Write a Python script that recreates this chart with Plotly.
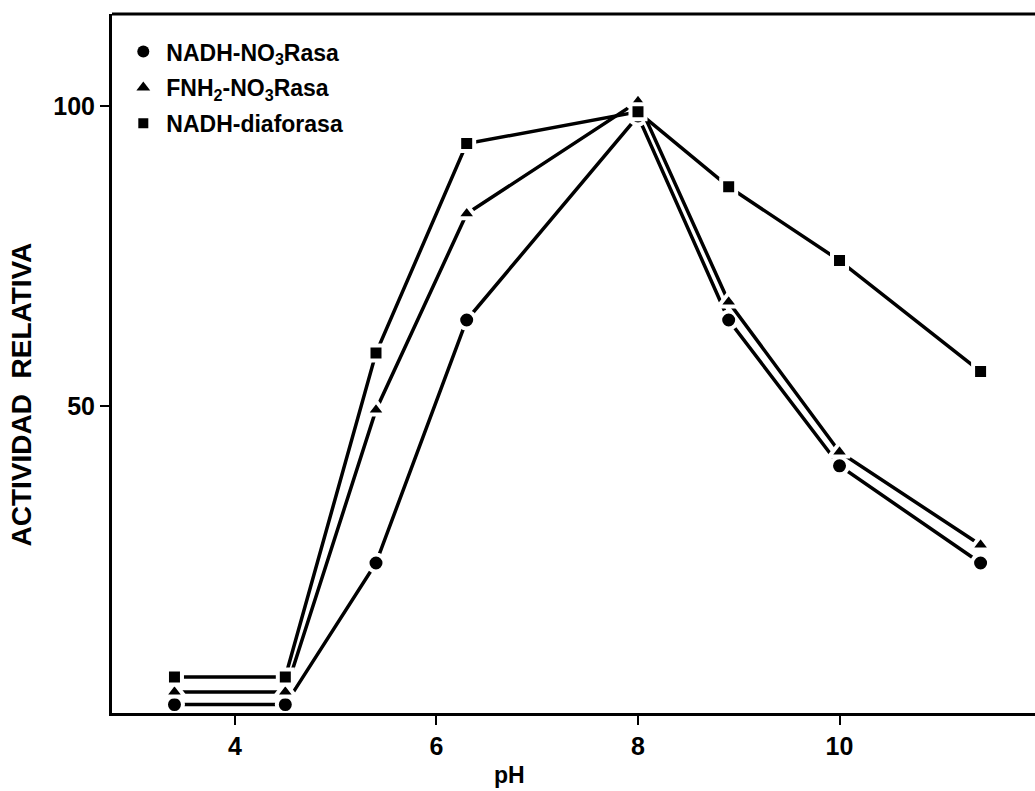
import plotly.graph_objects as go

# pH readings for each measured sample
ph = [3.4, 4.5, 5.4, 6.3, 8.0, 8.9, 10.0, 11.4]

# relative activity (%) for each enzyme activity
nadh_no3rasa = [0.2, 0.2, 23.8, 64.3, 98.3, 64.3, 40.0, 23.8]
fnh2_no3rasa = [2.3, 2.3, 49.3, 82.0, 100.7, 67.3, 42.3, 26.8]
nadh_diaforasa = [4.8, 4.8, 58.8, 93.7, 99.0, 86.5, 74.2, 55.7]

series_names = ["NADH-NO<sub>3</sub>Rasa", "FNH<sub>2</sub>-NO<sub>3</sub>Rasa", "NADH-diaforasa"]
series_values = [nadh_no3rasa, fnh2_no3rasa, nadh_diaforasa]
symbols = ["circle", "triangle-up", "square"]
# plotted marker sizes (the white halo eats into the outer edge)
sizes = [17, 18, 15]
legend_sizes = [12, 12, 10]

x_ticks = [4, 6, 8, 10]
y_ticks = [50, 100]

FONT = "Liberation Sans, Arial, sans-serif"

fig = go.Figure()

for name, vals, sym, sz in zip(series_names, series_values, symbols, sizes):
    # connecting lines, with a white halo around each marker so lines stop short of it
    fig.add_trace(go.Scatter(
        x=ph, y=vals, mode="lines+markers", showlegend=False,
        line=dict(color="black", width=3.5),
        marker=dict(symbol=sym, size=sz, color="black",
                    line=dict(color="white", width=4)),
        cliponaxis=False,
    ))

for i, (name, sym, sz) in enumerate(zip(series_names, symbols, legend_sizes)):
    # marker-only legend entries
    fig.add_trace(go.Scatter(
        x=[None], y=[None], mode="markers", name=name,
        legendgroup=f"g{i}",
        marker=dict(symbol=sym, size=sz, color="black"),
    ))

fig.update_layout(
    width=1035, height=791,
    margin=dict(l=112, r=0, t=14, b=78),
    paper_bgcolor="white", plot_bgcolor="white",
    font=dict(family=FONT, color="black"),
    showlegend=True,
    legend=dict(
        x=0.009, y=0.977, xanchor="left", yanchor="top",
        bgcolor="rgba(0,0,0,0)",
        font=dict(family=FONT, size=23, color="black", weight="bold"),
        tracegroupgap=3,
        itemwidth=36,
    ),
    xaxis=dict(
        range=[2.78, 11.94], tickvals=x_ticks, ticktext=[str(v) for v in x_ticks],
        showgrid=False, zeroline=False,
        showline=True, linecolor="black", linewidth=3,
        ticks="outside", ticklen=9, tickwidth=2, tickcolor="black",
        tickfont=dict(family=FONT, size=25, color="black", weight="bold"),
    ),
    yaxis=dict(
        range=[-1.2, 115.3], tickvals=y_ticks, ticktext=[str(v) for v in y_ticks],
        showgrid=False, zeroline=False,
        showline=True, linecolor="black", linewidth=3,
        ticks="outside", ticklen=9, tickwidth=2, tickcolor="black",
        tickfont=dict(family=FONT, size=25, color="black", weight="bold"),
    ),
)

# top frame edge
fig.add_shape(type="line", xref="paper", yref="paper", x0=0, x1=1, y0=1, y1=1,
              line=dict(color="black", width=3))

# axis titles
fig.add_annotation(
    text="ACTIVIDAD  RELATIVA", xref="paper", yref="paper",
    x=-0.098, y=0.455, xanchor="center", yanchor="middle",
    textangle=-90, showarrow=False,
    font=dict(family=FONT, size=28, color="black", weight="bold"),
)
fig.add_annotation(
    text="pH", xref="paper", yref="paper",
    x=0.431, y=-0.089, xanchor="center", yanchor="middle", showarrow=False,
    font=dict(family=FONT, size=23, color="black", weight="bold"),
)

fig.write_html("out.html")
